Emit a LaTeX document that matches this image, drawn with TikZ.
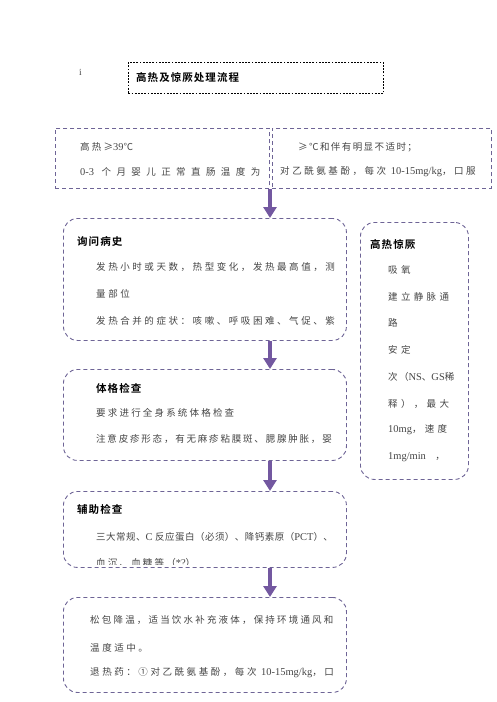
\documentclass[tikz,border=0pt]{standalone}
\usepackage{fontspec}
\setmainfont{Liberation Serif}
\newfontfamily\cjkN[LetterSpace=5]{Noto Sans CJK SC}
\newfontfamily\cjkA[LetterSpace=15]{Noto Sans CJK SC}
\newfontfamily\cjkB[LetterSpace=19]{Noto Sans CJK SC}
\newfontfamily\cjkC[LetterSpace=23]{Noto Sans CJK SC}
\newfontfamily\cjkD[LetterSpace=27]{Noto Sans CJK SC}
\newfontfamily\cjkE[LetterSpace=35]{Noto Sans CJK SC}
\newfontfamily\cjkW[LetterSpace=57]{Noto Sans CJK SC}
\newfontfamily\cjkb[LetterSpace=10]{Noto Sans CJK SC Bold}
\newfontfamily\latfont[Scale=1.1]{Liberation Serif}
\newcommand\lat[1]{{\latfont #1}}
\usetikzlibrary{arrows.meta}
\definecolor{bord}{RGB}{110,100,150}
\definecolor{arrc}{RGB}{115,88,160}
\definecolor{txt}{RGB}{70,70,70}
\begin{document}
\begin{tikzpicture}[x=1pt,y=-1pt,
  sqbox/.style={draw=bord,dashed,dash pattern=on 4pt off 3pt,line width=0.9pt,inner sep=0,anchor=north west},
  rbox/.style={sqbox,rounded corners=14pt},
  tbox/.style={draw=black,dash pattern=on 1.8pt off 1.4pt,line width=0.8pt,inner sep=0,anchor=north west},
  tx/.style={anchor=west,inner sep=0,text=txt,font=\cjkD\fontsize{9.5}{11}\selectfont},
  sp/.style={font=#1\fontsize{9.5}{11}\selectfont},
  hd/.style={anchor=west,inner sep=0,text=black,font=\cjkb\fontsize{10.5}{12}\selectfont},
  arr/.style={draw=arrc,line width=3.8pt,-{Triangle[width=13pt,length=11pt]}}]
\useasboundingbox (0,0) rectangle (496,702);
\fill[white] (0,0) rectangle (496,702);

% title
\node[anchor=west,inner sep=0,text=txt,font=\latfont\fontsize{8.5}{10}\selectfont] (i) at (79,72) {i};
\node[tbox,minimum width=255pt,minimum height=31pt] (title) at (128,62) {};
\node[hd] (titletx) at (136,77) {高热及惊厥处理流程};

% top boxes
\node[sqbox,minimum width=214pt,minimum height=60pt] (tl) at (55,128) {};
\node[sqbox,minimum width=219pt,minimum height=60pt] (tr) at (272,128) {};
\node[tx,sp=\cjkC] (tl1) at (80,147) {高热≥\lat{39}℃};
\node[tx,sp=\cjkW] (tl2) at (80,172) {\lat{0-3} 个月婴儿正常直肠温度为};
\node[tx,sp=\cjkA] (tr1) at (298,147) {≥℃和伴有明显不适时；};
\node[tx,sp=\cjkD] (tr2) at (280,172) {对乙酰氨基酚，每次 \lat{10-15mg/kg}，口服};

% box 1
\node[rbox,minimum width=283pt,minimum height=122pt] (b1) at (63,218) {};
\node[hd] (b1h) at (77,241) {询问病史};
\node[tx] (b1a) at (96,267) {发热小时或天数，热型变化，发热最高值，测};
\node[tx] (b1b) at (96,294) {量部位};
\node[tx] (b1c) at (96,321) {发热合并的症状：咳嗽、呼吸困难、气促、紫};

% box 2
\node[rbox,minimum width=283pt,minimum height=91pt] (b2) at (63,369) {};
\node[hd] (b2h) at (96,388) {体格检查};
\node[tx,sp=\cjkC] (b2a) at (96,413) {要求进行全身系统体格检查};
\node[tx,sp=\cjkB] (b2b) at (96,439) {注意皮疹形态，有无麻疹粘膜斑、腮腺肿胀，婴};

% box 3
\node[rbox,minimum width=283pt,minimum height=76pt] (b3) at (63,491) {};
\node[hd] (b3h) at (77,509) {辅助检查};
\node[tx,sp=\cjkN] (b3a) at (96,537) {三大常规、\lat{C} 反应蛋白（必须）、降钙素原（\lat{PCT}）、};
\begin{scope}
\clip (64,540) rectangle (345,564);
\node[tx,sp=\cjkC] (b3b) at (96,563) {血沉、血糖等（\lat{*?}）};
\end{scope}

% box 4
\node[rbox,minimum width=283pt,minimum height=95pt] (b4) at (63,597) {};
\node[tx,sp=\cjkC] (b4a) at (90,620) {松包降温，适当饮水补充液体，保持环境通风和};
\node[tx] (b4b) at (90,648) {温度适中。};
\node[tx] (b4c) at (90,673) {退热药：①对乙酰氨基酚，每次 \lat{10-15mg/kg}，口};

% right box
\node[rbox,minimum width=108pt,minimum height=257pt] (rb) at (360,222) {};
\node[hd] (rbh) at (370,244) {高热惊厥};
\node[tx,sp=\cjkE] (r1) at (388,270) {吸氧};
\node[tx,sp=\cjkE] (r2) at (388,297) {建立静脉通};
\node[tx,sp=\cjkE] (r3) at (388,323) {路};
\node[tx,sp=\cjkE] (r4) at (388,350) {安定};
\node[tx,sp=\cjkA] (r5) at (388,377) {次（\lat{NS}、\lat{GS}稀};
\node[tx,sp=\cjkE] (r6) at (388,404) {释），最大};
\node[tx,sp=\cjkE] (r7) at (388,430) {\lat{10mg}，速度};
\node[tx,sp=\cjkE] (r8) at (388,457) {\lat{1mg/min}\quad ，};

% arrows
\coordinate (ax) at (270,0);
\draw[arr] (tl.south -| ax) -- (b1.north -| ax);
\draw[arr] (b1.south -| ax) -- (b2.north -| ax);
\draw[arr] (b2.south -| ax) -- (b3.north -| ax);
\draw[arr] (b3.south -| ax) -- (b4.north -| ax);
\end{tikzpicture}
\end{document}
